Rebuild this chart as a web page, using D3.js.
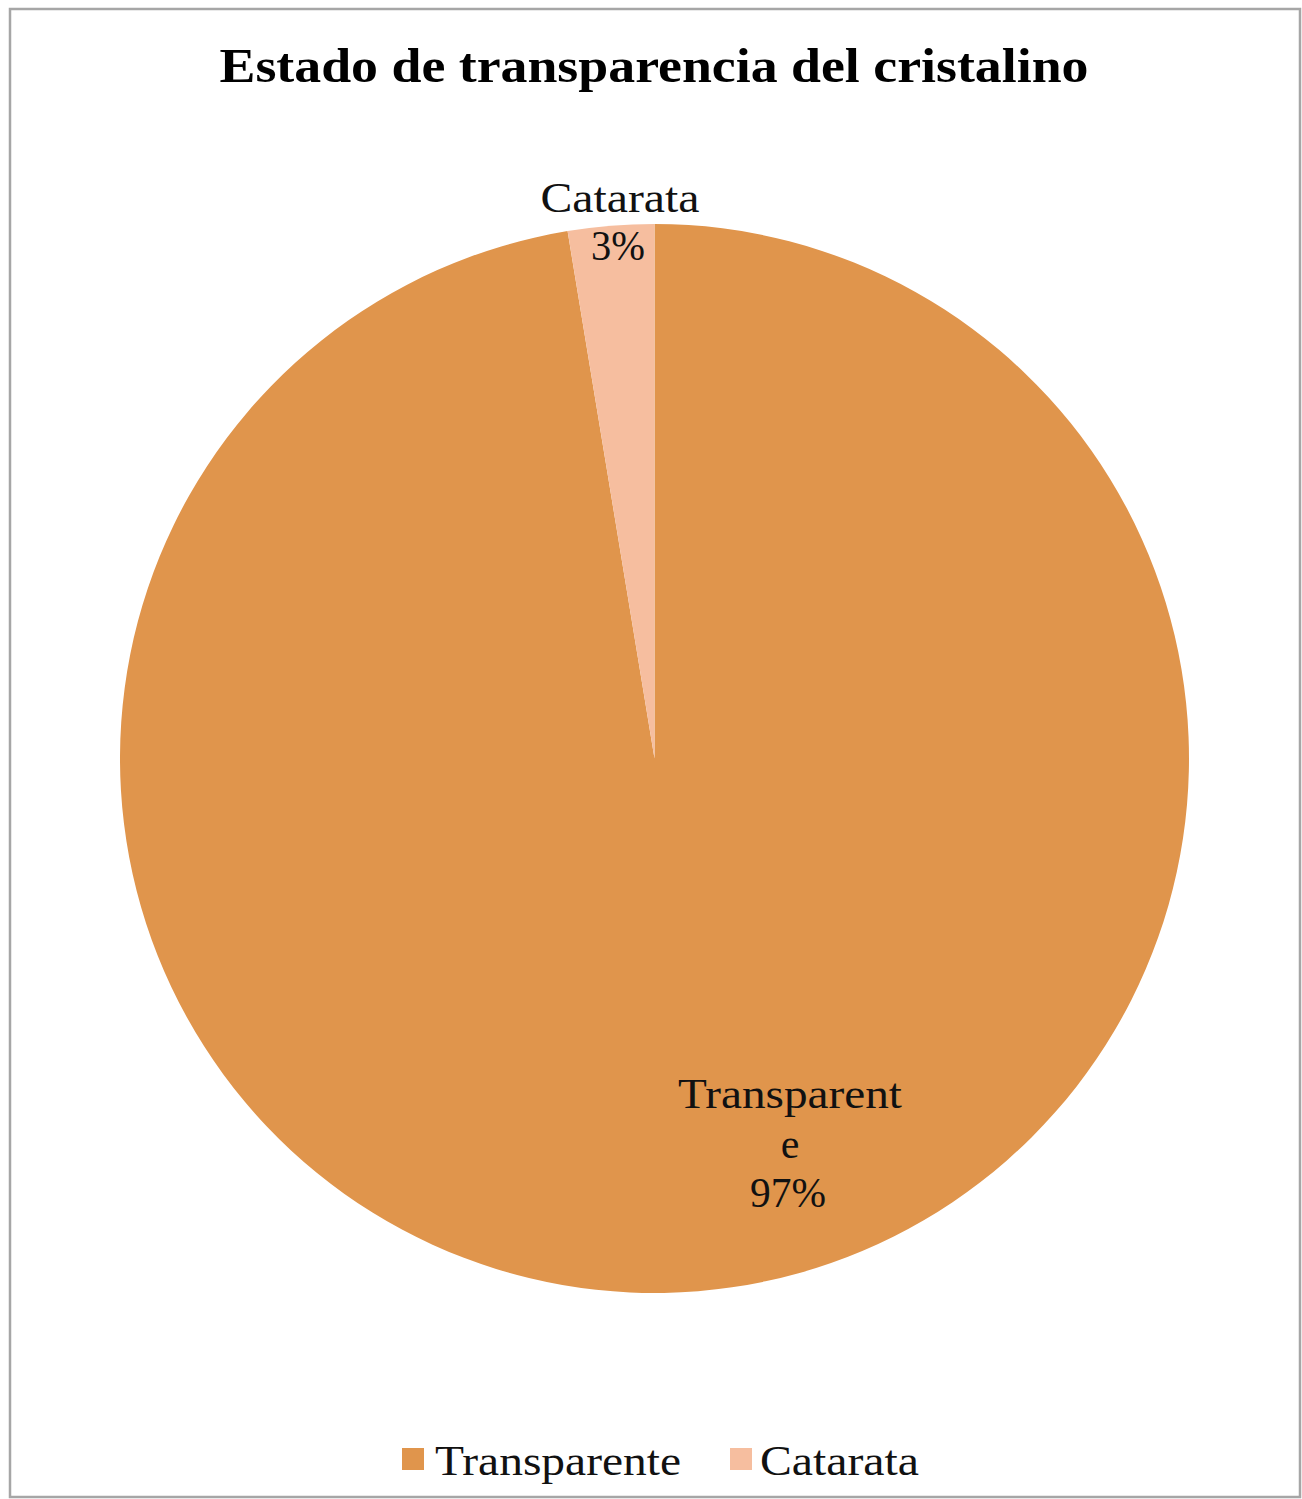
<!DOCTYPE html>
<html><head><meta charset="utf-8">
<script src="https://cdn.jsdelivr.net/npm/d3@7"></script>
<style>body{margin:0;background:#fff}svg{display:block}</style>
</head><body>
<script>
const categories = ["Transparente", "Catarata"];
const values = [97.4, 2.6];
const labels = ["97%", "3%"];
const colors = ["#E0954C", "#F6BE9F"];
const title = "Estado de transparencia del cristalino";

const W = 1302, H = 1499;
const font = "'Palatino Linotype','Book Antiqua',Palatino,'Liberation Serif',serif";
const svg = d3.select("body").append("svg").attr("width", W).attr("height", H);
svg.append("rect").attr("width", W).attr("height", H).attr("fill", "#fff");
svg.append("rect").attr("x", 10).attr("y", 9).attr("width", 1290).attr("height", 1488)
  .attr("fill", "none").attr("stroke", "#a6a6a6").attr("stroke-width", 2.5);

svg.append("text").attr("x", 654).attr("y", 82).attr("text-anchor", "middle")
  .attr("font-family", font).attr("font-weight", "bold").attr("font-size", 48)
  .attr("textLength", 869).attr("lengthAdjust", "spacingAndGlyphs").text(title);

const cx = 654.5, cy = 758.5, r = 534.5;
const pie = d3.pie().sort(null).value(d => d)(values);
const arc = d3.arc().innerRadius(0).outerRadius(r);
const g = svg.append("g").attr("transform", `translate(${cx},${cy})`);
g.selectAll("path").data(pie).join("path").attr("d", arc).attr("fill", (d, i) => colors[i]);

// data labels
const lab = svg.append("g").attr("font-family", font).attr("font-size", 42).attr("fill", "#111").attr("text-anchor", "middle");
function line(x, y, s, len) {
  const t = lab.append("text").attr("x", x).attr("y", y).text(s);
  if (len) t.attr("textLength", len).attr("lengthAdjust", "spacingAndGlyphs");
}
line(790, 1108, "Transparent", 224);
line(790, 1158, "e", null);
line(788, 1207, labels[0], 76);
line(620, 212, categories[1], 159);
line(618, 260, labels[1], 54);

// legend
const leg = svg.append("g").attr("font-family", font).attr("font-size", 42).attr("fill", "#111");
const legX = [402, 730], legTX = [435, 760], legLen = [246, 159];
categories.forEach((c, i) => {
  leg.append("rect").attr("x", legX[i]).attr("y", 1448).attr("width", 22).attr("height", 22).attr("fill", colors[i]);
  leg.append("text").attr("x", legTX[i]).attr("y", 1475).attr("textLength", legLen[i])
    .attr("lengthAdjust", "spacingAndGlyphs").text(c);
});
</script>
</body></html>
